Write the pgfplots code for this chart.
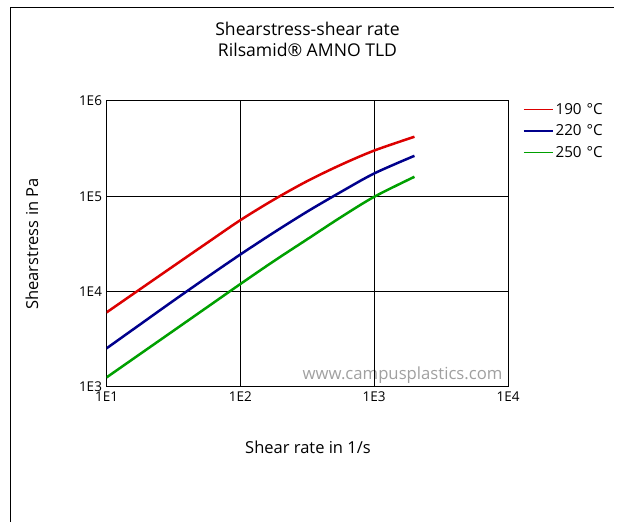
\documentclass[border=0pt]{standalone}
\usepackage{pgfplots}
\pgfplotsset{compat=1.18}
\usepackage{fontspec}
\setmainfont{Open Sans}
\definecolor{cred}{RGB}{220,0,0}
\definecolor{cblue}{RGB}{0,0,140}
\definecolor{cgreen}{RGB}{0,160,0}
\definecolor{wm}{RGB}{160,160,160}
\begin{document}
\begin{tikzpicture}
\path[use as bounding box] (0pt,0pt) rectangle (620pt,522pt);
\draw[line width=1pt] (10pt,0pt) -- (10pt,514pt) -- (614pt,514pt);
% titles
\node[font=\fontsize{17.6}{21}\selectfont, align=center] at (307.5pt,482.5pt) {Shearstress-shear rate\\Rilsamid® AMNO TLD};
\node[font=\fontsize{16.5}{19}\selectfont] at (308pt,75pt) {Shear rate in 1/s};
\node[font=\fontsize{16.5}{19}\selectfont, rotate=90] at (32pt,278pt) {Shearstress in Pa};
\node[font=\fontsize{16.7}{19}\selectfont, text=wm, anchor=east] at (506pt,147pt) {www.campusplastics.com};
\begin{axis}[
  at={(106.5pt,135pt)}, anchor=south west,
  scale only axis, width=401.5pt, height=286pt,
  xmode=log, ymode=log,
  xmin=10, xmax=10000, ymin=1000, ymax=1000000,
  xtick={10,100,1000,10000}, xticklabels={1E1,1E2,1E3,1E4},
  ytick={1000,10000,100000,1000000}, yticklabels={1E3,1E4,1E5,1E6},
  minor tick num=0, major tick length=0pt,
  log basis x=10, log basis y=10,
  grid=major, major grid style={black, line width=1pt},
  axis line style={black, line width=1pt},
  tick label style={font=\fontsize{13.5}{16}\selectfont},
  xticklabel style={yshift=-1pt},
  yticklabel style={xshift=-1pt},
  legend style={at={(1.037,1.0)}, anchor=north west, draw=none, fill=none,
    font=\fontsize{15.2}{18}\selectfont, row sep=5pt, inner sep=0pt},
  legend cell align=left,
  legend image code/.code={\draw[#1] (0pt,0pt) -- (23pt,0pt); \path (0pt,0pt) -- (29pt,0pt);},
]
\addplot[cred, line width=2.5pt, smooth, forget plot] coordinates {
(10,6053) (17.78,10593) (31.62,18535) (56.23,32359) (100,56234) (177.8,92257) (316.2,144544) (562.3,213796) (1000,301995) (2000,421697)};
\addplot[cblue, line width=2.5pt, smooth, forget plot] coordinates {
(10,2541) (17.78,4519) (31.62,8035) (56.23,14125) (100,24547) (177.8,41687) (316.2,69183) (562.3,110917) (1000,173780) (2000,266073)};
\addplot[cgreen, line width=2.5pt, smooth, forget plot] coordinates {
(10,1259) (17.78,2213) (31.62,3890) (56.23,6839) (100,12023) (177.8,20893) (316.2,35481) (562.3,60256) (1000,98855) (2000,160325)};
\addlegendimage{cred, line width=1.5pt}
\addlegendentry{190\,\,°C}
\addlegendimage{cblue, line width=1.5pt}
\addlegendentry{220\,\,°C}
\addlegendimage{cgreen, line width=1.5pt}
\addlegendentry{250\,\,°C}
\end{axis}
\end{tikzpicture}
\end{document}
